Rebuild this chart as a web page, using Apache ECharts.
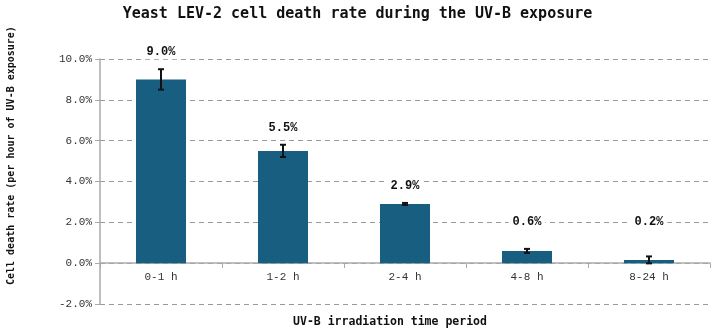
<!DOCTYPE html>
<html><head><meta charset="utf-8">
<script src="https://cdn.jsdelivr.net/npm/echarts@6/dist/echarts.min.js"></script>
<style>html,body{margin:0;padding:0;background:#fff}#c{width:715px;height:332px}</style>
</head><body><div id="c"></div>
<script>
const categories = ['0-1 h', '1-2 h', '2-4 h', '4-8 h', '8-24 h'];
const rates = [9.0, 5.5, 2.9, 0.6, 0.16];
const errors = [0.5, 0.3, 0.05, 0.1, 0.17];
const labels = ['9.0%', '5.5%', '2.9%', '0.6%', '0.2%'];
const yTicks = [-2, 0, 2, 4, 6, 8, 10];

const chart = echarts.init(document.getElementById('c'));
const mono = 'Liberation Mono';
chart.setOption({
  animation: false,
  title: {
    text: 'Yeast LEV-2 cell death rate during the UV-B exposure',
    left: 'center', top: 2,
    textStyle: { fontFamily: 'DejaVu Sans Mono', fontWeight: 'bold', fontSize: 15, color: '#111' }
  },
  grid: { left: 100, right: 5, top: 59, bottom: 28 },
  xAxis: {
    type: 'category', data: categories,
    offset: -41,
    axisLine: { onZero: false, lineStyle: { color: '#aaa', width: 1.5 } },
    axisTick: { show: true, alignWithLabel: false, length: 5, lineStyle: { color: '#aaa' } },
    axisLabel: { fontFamily: mono, fontSize: 11, color: '#333', margin: 9 }
  },
  yAxis: {
    type: 'value', min: -2, max: 10, interval: 2,
    axisLine: { show: true, lineStyle: { color: '#aaa', width: 1.5 } },
    axisTick: { show: true, length: 5, lineStyle: { color: '#aaa' } },
    axisLabel: { fontFamily: mono, fontSize: 11, color: '#333', margin: 8,
      formatter: v => yTicks.includes(v) ? v.toFixed(1) + '%' : '' },
    splitLine: { lineStyle: { color: '#999', type: [5, 4], width: 1 } }
  },
  graphic: [
    { type: 'text', x: 6, y: 285, rotation: Math.PI / 2,
      style: { text: 'Cell death rate (per hour of UV-B exposure)', font: 'bold 10px "DejaVu Sans Mono"', fill: '#111' } },
    { type: 'text', x: 390, y: 322,
      style: { text: 'UV-B irradiation time period', font: 'bold 11.5px "DejaVu Sans Mono"', fill: '#111', align: 'center', verticalAlign: 'middle' } }
  ],
  series: [
    {
      type: 'bar', data: rates, barWidth: '41%',
      itemStyle: { color: '#185e80' }, z: 2
    },
    {
      type: 'custom', z: 5,
      data: rates.map((v, i) => [i, v, errors[i]]),
      renderItem: function (params, api) {
        const i = api.value(0), v = api.value(1), e = api.value(2);
        const top = api.coord([i, v + e]);
        const bot = api.coord([i, v - e]);
        const floorY = api.coord([i, 2])[1];
        const ly = Math.min(top[1] - 17, floorY);
        const x = top[0], hw = 3;
        const ls = { stroke: '#111', lineWidth: 2 };
        return {
          type: 'group', children: [
            { type: 'line', shape: { x1: x, y1: top[1], x2: x, y2: bot[1] }, style: ls },
            { type: 'line', shape: { x1: x - hw, y1: top[1], x2: x + hw, y2: top[1] }, style: ls },
            { type: 'line', shape: { x1: x - hw, y1: bot[1], x2: x + hw, y2: bot[1] }, style: ls },
            { type: 'text', x: x, y: ly, style: {
                text: labels[params.dataIndex], font: 'bold 12px "Liberation Mono"', fill: '#111',
                align: 'center', verticalAlign: 'middle', backgroundColor: '#fff', padding: [1, 4] } }
          ]
        };
      }
    }
  ]
});
</script></body></html>
